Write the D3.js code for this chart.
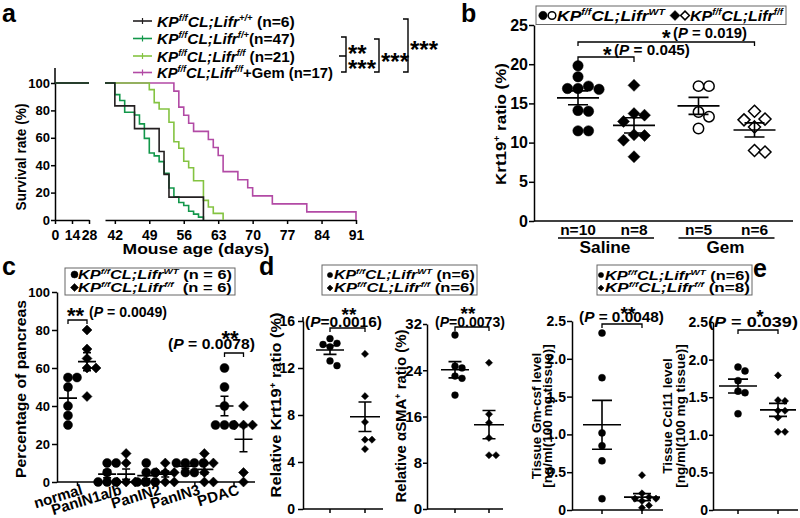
<!DOCTYPE html>
<html lang="en">
<head>
<meta charset="UTF-8" />
<title>Lifr loss figure</title>
<script src="https://cdn.jsdelivr.net/npm/d3@7"></script>
<style>
  body { margin: 0; background: #fff; }
  svg { font-family: "Liberation Sans", Arial, sans-serif; font-weight: bold; }
  text { white-space: pre; fill: #000; }
</style>
</head>
<body>
<svg width="800" height="518"></svg>
<script>
  // ---- a: Kaplan-Meier, day of each drop and survival (%) after it
  const kmN = [6, 47, 21, 17];
  const kmSup = ["+/+", "f/+", "f/f", "f/f"];
  const kmColors = ["#231f20", "#12974a", "#84c341", "#b24aa5"];
  const kmDays = [
    [42, 46, 51, 52, 53, 60],
    [42, 43, 44, 46, 47, 48, 49, 50, 51, 52, 53, 54, 55, 56, 57, 58, 59, 60],
    [49, 50, 51, 53, 54, 55, 56, 57, 58, 60, 61, 62, 64],
    [54, 55, 56, 57, 58, 61, 62, 63, 64, 67, 69, 70, 74, 81, 91]
  ];
  const kmSurv = [
    [83.3, 66.7, 50, 33.3, 16.7, 0],
    [91.5, 87.2, 78.7, 76.6, 70.2, 59.6, 48.9, 46.8, 42.6, 34.0, 23.4, 17.0, 12.8, 10.6, 6.4, 4.3, 2.1, 0],
    [95.2, 85.7, 81.0, 71.4, 57.1, 52.4, 42.9, 38.1, 28.6, 14.3, 9.5, 4.8, 0],
    [94.1, 82.4, 76.5, 70.6, 64.7, 58.8, 52.9, 47.1, 35.3, 29.4, 23.5, 17.6, 11.8, 5.9, 0]
  ];
  const kmTicksLeft = [0, 14, 28];
  const kmTicksRight = [42, 49, 56, 63, 70, 77, 84, 91];
  const kmTicksY = [0, 20, 40, 60, 80, 100];

  // ---- b: Krt19+ ratio
  const bTreat = ["Saline", "Saline", "Gem", "Gem"];
  const bGeno = ["WT", "f/f", "WT", "f/f"];
  const bValues = [
    [19.8, 18.4, 17.2, 16.9, 16.9, 16.8, 14.1, 14.0, 11.5, 11.5],
    [17.3, 13.7, 13.5, 12.7, 11.0, 10.9, 10.3, 8.2],
    [17.2, 17.2, 13.9, 13.3, 11.8],
    [14.0, 13.0, 12.9, 12.0, 9.0, 8.8]
  ];
  const bTicks = [0, 5, 10, 15, 20, 25];

  // ---- c: percentage of pancreas
  const cCats = ["normal", "PanIN1a/b", "PanIN2", "PanIN3", "PDAC"];
  const cWT = [[55, 55, 50, 40, 35, 30], [10, 10, 5, 0, 0, 0], [10, 5, 5, 0, 0, 0], [10, 10, 10, 10, 5, 5], [60, 50, 40, 30, 30, 30]];
  const cFF = [[80, 70, 65, 60, 60, 45], [15, 10, 0, 0, 0, 0], [10, 5, 5, 5, 0, 0], [15, 10, 10, 5, 0, 0], [40, 30, 30, 30, 5, 0]];
  const cTicks = [0, 20, 40, 60, 80, 100];

  // ---- d: relative Krt19+ and aSMA+ ratios
  const dKrtWT = [14.5, 14.1, 14.0, 13.8, 12.6, 12.2];
  const dKrtFF = [13.2, 9.6, 7.4, 5.9, 5.9, 5.1];
  const dSmaWT = [30.1, 24.7, 24.4, 23.0, 22.6, 19.7];
  const dSmaFF = [25.3, 16.4, 14.9, 12.3, 9.3, 9.3];
  const dKrtTicks = [0, 4, 8, 12, 16];
  const dSmaTicks = [0, 8, 16, 24, 32];

  // ---- e: tissue Gm-csf and Ccl11
  const eGmWT = [2.34, 1.75, 1.02, 0.85, 0.65, 0.15];
  const eGmFF = [0.46, 0.22, 0.17, 0.15, 0.15, 0.12, 0.06, 0.03];
  const eCclWT = [1.90, 1.85, 1.72, 1.58, 1.56, 1.28];
  const eCclFF = [1.79, 1.46, 1.45, 1.32, 1.32, 1.23, 1.04, 1.04];
  const eTicks = [0, 0.5, 1, 1.5, 2, 2.5];

  const svg = d3.select("svg");

  // ---------- helpers ----------
  function rich(t, parts, size) {
    let up = false;
    parts.forEach(([s, kind]) => {
      const sp = t.append("tspan").text(s);
      if (kind.includes("i")) sp.attr("font-style", "italic");
      if (kind.includes("s")) {
        sp.attr("font-size", size * 0.6);
        if (!up) sp.attr("dy", -size * 0.38);
        up = true;
      } else if (up) {
        sp.attr("dy", size * 0.38);
        up = false;
      }
    });
  }

  function fit(t, w) {
    const L = t.node().getComputedTextLength();
    t.attr("transform", t.attr("transform") + ` scale(${w / L},1)`);
  }

  function txt(g, x, y, size, o = {}) {
    const t = g.append("text")
      .attr("transform", `translate(${x},${y})` + (o.rot ? ` rotate(${o.rot})` : ""))
      .attr("font-size", size)
      .attr("text-anchor", o.anchor || "start");
    if (o.text != null) t.text(o.text);
    if (o.parts) rich(t, o.parts, size);
    if (o.fit) fit(t, o.fit);
    return t;
  }

  const geno = (sup, tail) => [["KP", "i"], ["f/f", "is"], ["CL;Lifr", "i"], [sup, "is"], [tail, ""]];
  const pText = (num) => [["(", ""], ["P", "i"], [num + ")", ""]];

  function styleAxis(ax, size) {
    ax.attr("font-size", size).attr("font-family", null);
    ax.selectAll("path, line").attr("stroke", "#000").attr("stroke-width", 1.5);
    ax.selectAll("text").attr("fill", "#000");
  }

  function yAxis(g, y, x, ticks, size, len, pad, fmt) {
    const ax = g.append("g").attr("transform", `translate(${x},0)`)
      .call(d3.axisLeft(y).tickValues(ticks).tickSize(len).tickSizeOuter(0)
        .tickPadding(pad).tickFormat(fmt || (d => d)));
    styleAxis(ax, size);
  }

  function baseAxis(g, x0, x1, y, tickXs, len) {
    g.append("line").attr("x1", x0).attr("x2", x1).attr("y1", y).attr("y2", y)
      .attr("stroke", "#000").attr("stroke-width", 1.5);
    g.selectAll(null).data(tickXs).enter().append("line")
      .attr("x1", d => d).attr("x2", d => d).attr("y1", y).attr("y2", y + len)
      .attr("stroke", "#000").attr("stroke-width", 1.5);
  }

  function path(g, d, w) {
    g.append("path").attr("d", d).attr("fill", "none").attr("stroke", "#000").attr("stroke-width", w || 1.3);
  }

  const diamond = r => `M0,${-r}L${r},0L0,${r}L${-r},0Z`;

  function marker(g, x, y, shape, r, open) {
    const m = shape === "circle"
      ? g.append("circle").attr("cx", x).attr("cy", y).attr("r", r)
      : g.append("path").attr("d", diamond(r)).attr("transform", `translate(${x},${y})`);
    m.attr("fill", open ? "#fff" : "#000").attr("stroke", "#000").attr("stroke-width", open ? 1.5 : 0.5);
  }

  // spread points sideways so they don't sit on top of each other
  function dodge(ys, minD, step) {
    const placed = [];
    ys.slice().sort((p, q) => p - q).forEach(py => {
      for (let k = 0; k < 40; k++) {
        const off = Math.ceil(k / 2) * step * (k % 2 ? 1 : -1);
        if (placed.every(p => Math.hypot(p.x - off, p.y - py) >= minD)) {
          placed.push({ x: off, y: py });
          return;
        }
      }
      placed.push({ x: 0, y: py });
    });
    return placed;
  }

  function dots(g, vals, cx, y, o) {
    dodge(vals.map(y), o.minD, o.step).forEach(p => marker(g, cx + p.x, p.y, o.shape, o.r, o.open));
    const m = d3.mean(vals), s = d3.deviation(vals) / Math.sqrt(vals.length);
    path(g, `M${cx - o.mw / 2},${y(m)}H${cx + o.mw / 2}` +
      `M${cx},${y(m + s)}V${y(m - s)}` +
      `M${cx - o.cw / 2},${y(m + s)}H${cx + o.cw / 2}` +
      `M${cx - o.cw / 2},${y(m - s)}H${cx + o.cw / 2}`, 1.6);
  }

  function bracket(g, x0, x1, y, drop) {
    path(g, `M${x0},${y + drop}V${y}H${x1}V${y + drop}`, 1.3);
  }

  // ---------- a ----------
  const pa = svg.append("g");
  const yA = d3.scaleLinear().domain([0, 100]).range([220, 83]);
  const xA1 = d3.scaleLinear().domain([0, 28]).range([55, 89]);
  const xA2 = d3.scaleLinear().domain([40, 91]).range([105, 356]);

  txt(pa, 2, 22, 25, { text: "a" });
  path(pa, "M55,68V84", 1.5);
  yAxis(pa, yA, 55, kmTicksY, 13, 4, 1);
  [[xA1, kmTicksLeft], [xA2, kmTicksRight]].forEach(([x, t]) => {
    const ax = pa.append("g").attr("transform", "translate(0,220)")
      .call(d3.axisBottom(x).tickValues(t).tickSize(4).tickSizeOuter(0).tickPadding(6));
    styleAxis(ax, 14);
  });

  const stepLine = d3.line().x(d => xA2(d[0])).y(d => yA(d[1])).curve(d3.curveStepAfter);
  [3, 2, 1, 0].forEach(i => {
    const pts = [[40, 100]].concat(kmDays[i].map((t, j) => [t, kmSurv[i][j]]));
    pa.append("path").attr("d", stepLine(pts)).attr("fill", "none")
      .attr("stroke", kmColors[i]).attr("stroke-width", 1.6);
    pa.append("line").attr("x1", xA1(0)).attr("x2", xA1(28)).attr("y1", yA(100)).attr("y2", yA(100))
      .attr("stroke", kmColors[i]).attr("stroke-width", 1.6);
  });

  txt(pa, 26, 157, 14, { rot: -90, anchor: "middle", text: "Survival rate (%)", fit: 107 });
  txt(pa, 196, 254, 15, { anchor: "middle", text: "Mouse age (days)", fit: 147 });

  const legY = [21, 38.5, 56, 72.5];
  const legW = [138, 138, 138, 176];
  kmN.forEach((n, i) => {
    const ly = legY[i];
    pa.append("line").attr("x1", 133).attr("x2", 152).attr("y1", ly).attr("y2", ly)
      .attr("stroke", kmColors[i]).attr("stroke-width", 1.6);
    pa.append("line").attr("x1", 142.5).attr("x2", 142.5).attr("y1", ly - 3).attr("y2", ly + 3)
      .attr("stroke", kmColors[i]).attr("stroke-width", 1.2);
    const tail = i === 3 ? `+Gem (n=${n})` : (i === 1 ? `(n=${n})` : ` (n=${n})`);
    txt(pa, 157, ly + 5.5, 15, { parts: geno(kmSup[i], tail), fit: legW[i] });
  });

  path(pa, "M341,37H346V72H341M339,56H346", 1.4);
  path(pa, "M374,39H379V72H374", 1.4);
  path(pa, "M403,19H408V72H403", 1.4);
  txt(pa, 348, 61.5, 24, { text: "**" });
  txt(pa, 348, 77, 24, { text: "***" });
  txt(pa, 381, 70, 24, { text: "***" });
  txt(pa, 410, 58, 24, { text: "***" });

  // ---------- b ----------
  const pb = svg.append("g");
  const yB = d3.scaleLinear().domain([0, 25]).range([221, 25]);
  const xB = d3.scalePoint().domain(["Saline", "Gem"]).range([606, 726.5]);
  const bx = i => xB(bTreat[i]) + (bGeno[i] === "WT" ? -28 : 28);

  txt(pb, 461, 22, 25, { text: "b" });
  yAxis(pb, yB, 534, bTicks, 16, 5, 1);
  baseAxis(pb, 534, 793, 221, [], 0);

  bValues.forEach((vals, i) => {
    const wt = bGeno[i] === "WT";
    dots(pb, vals, bx(i), yB, {
      shape: wt ? "circle" : "diamond", r: wt ? 5.2 : 6, open: bTreat[i] === "Gem",
      minD: 10.5, step: 10.5, mw: 42, cw: 20
    });
    txt(pb, bx(i), 235, 15.5, { anchor: "middle", text: `n=${vals.length}` });
  });
  xB.domain().forEach(tr => {
    const c = xB(tr);
    path(pb, `M${c - 48},238H${c + 48}`, 1.4);
    txt(pb, c - 1, 253, 16, { anchor: "middle", text: tr, fit: tr === "Saline" ? 51 : 38 });
  });

  txt(pb, 506, 124, 15, { rot: -90, anchor: "middle", parts: [["Krt19", ""], ["+", "s"], [" ratio (%)", ""]], fit: 122 });

  pb.append("rect").attr("x", 536).attr("y", 6).attr("width", 250).attr("height", 18.5)
    .attr("fill", "none").attr("stroke", "#666").attr("stroke-width", 1);
  marker(pb, 543, 15.5, "circle", 4.2, false);
  marker(pb, 552, 15.5, "circle", 3.8, true);
  marker(pb, 675, 15.5, "diamond", 5, false);
  marker(pb, 685, 15.5, "diamond", 4.4, true);
  txt(pb, 557, 21, 15, { parts: geno("WT", ""), fit: 108 });
  txt(pb, 690, 21, 15, { parts: geno("f/f", ""), fit: 93 });

  bracket(pb, bx(0), bx(1), 57, 5);
  bracket(pb, bx(0), bx(3), 42, 4);
  txt(pb, 603, 62, 22, { text: "*" });
  txt(pb, 614, 55, 15, { parts: pText(" = 0.045"), fit: 76 });
  txt(pb, 662, 45, 22, { text: "*" });
  txt(pb, 673, 38, 15, { parts: pText(" = 0.019"), fit: 74 });

  // ---------- c ----------
  const pc = svg.append("g");
  const yC = d3.scaleLinear().domain([0, 100]).range([482, 292]);
  const xC = d3.scalePoint().domain(cCats).range([77.5, 234]);

  txt(pc, 2, 275, 25, { text: "c" });
  yAxis(pc, yC, 57, cTicks, 13, 5, 2);
  baseAxis(pc, 57, 255, 482, cCats.map(c => xC(c)), 4);

  cCats.forEach((c, i) => {
    dots(pc, cWT[i], xC(c) - 9.5, yC, { shape: "circle", r: 4.5, minD: 5, step: 4.5, mw: 18, cw: 8 });
    dots(pc, cFF[i], xC(c) + 9.5, yC, { shape: "diamond", r: 5, minD: 5, step: 4.5, mw: 18, cw: 8 });
    txt(pc, xC(c) + 6, 494, 15, { rot: -17, anchor: "end", text: c });
  });

  txt(pc, 25.5, 389, 14, { rot: -90, anchor: "middle", text: "Percentage of pancreas", fit: 178 });

  pc.append("rect").attr("x", 65).attr("y", 268).attr("width", 170).attr("height", 27)
    .attr("fill", "none").attr("stroke", "#666").attr("stroke-width", 1);
  marker(pc, 74.5, 274.5, "circle", 3.5, false);
  marker(pc, 74.5, 287.5, "diamond", 4, false);
  txt(pc, 78, 279, 13, { parts: geno("WT", " (n = 6)"), fit: 154 });
  txt(pc, 78, 292, 13, { parts: geno("f/f", "  (n = 6)"), fit: 154 });

  bracket(pc, xC("normal") - 9.5, xC("normal") + 9.5, 320, 4);
  txt(pc, 67, 323, 22, { text: "**" });
  txt(pc, 89, 317, 14, { parts: pText(" = 0.0049"), fit: 78 });
  bracket(pc, xC("PDAC") - 9.5, xC("PDAC") + 9.5, 353, 4);
  txt(pc, 230, 346, 22, { anchor: "middle", text: "**" });
  txt(pc, 168, 349, 14, { parts: pText(" = 0.0078"), fit: 87 });

  // ---------- d ----------
  const pd = svg.append("g");
  const yDL = d3.scaleLinear().domain([0, 16]).range([509, 321]);
  const yDR = d3.scaleLinear().domain([0, 32]).range([509, 324]);
  const xDL = d3.scalePoint().domain(["WT", "f/f"]).range([330, 365]);
  const xDR = d3.scalePoint().domain(["WT", "f/f"]).range([455, 489]);

  txt(pd, 259, 275, 25, { text: "d" });
  path(pd, "M303,317V322", 1.5);
  yAxis(pd, yDL, 303, dKrtTicks, 14, 5, 3);
  baseAxis(pd, 303, 383, 509, xDL.domain().map(xDL), 4);
  yAxis(pd, yDR, 427, dSmaTicks, 15, 4, 1);
  baseAxis(pd, 427, 503, 509, xDR.domain().map(xDR), 4);

  const smallC = { shape: "circle", r: 3.4, minD: 6.5, step: 7, mw: 28, cw: 13 };
  const smallD = { shape: "diamond", r: 3.6, minD: 6.5, step: 7, mw: 30, cw: 13 };
  dots(pd, dKrtWT, xDL("WT"), yDL, smallC);
  dots(pd, dKrtFF, xDL("f/f"), yDL, smallD);
  dots(pd, dSmaWT, xDR("WT"), yDR, smallC);
  dots(pd, dSmaFF, xDR("f/f"), yDR, smallD);

  txt(pd, 281, 405, 14, { rot: -90, anchor: "middle", parts: [["Relative Krt19", ""], ["+", "s"], [" ratio (%)", ""]], fit: 185 });
  txt(pd, 406, 416, 14, { rot: -90, anchor: "middle", parts: [["Relative αSMA", ""], ["+", "s"], [" ratio (%)", ""]], fit: 173 });

  pd.append("rect").attr("x", 322).attr("y", 265).attr("width", 155).attr("height", 30)
    .attr("fill", "none").attr("stroke", "#666").attr("stroke-width", 1);
  marker(pd, 330, 275, "circle", 2.6, false);
  marker(pd, 330, 288, "diamond", 3, false);
  txt(pd, 334, 279, 13, { parts: geno("WT", " (n=6)"), fit: 141 });
  txt(pd, 334, 292, 13, { parts: geno("f/f", " (n=6)"), fit: 141 });

  bracket(pd, xDL("WT"), xDL("f/f"), 328, 4);
  txt(pd, 349, 321, 19, { anchor: "middle", text: "**" });
  txt(pd, 305, 327, 14, { parts: [["(", ""], ["P", "i"], ["=0.0016)", ""]], fit: 77 });
  bracket(pd, xDR("WT"), xDR("f/f"), 327, 4);
  txt(pd, 468, 319.5, 19, { anchor: "middle", text: "**" });
  txt(pd, 435, 327, 14, { parts: [["(", ""], ["P", "i"], ["=0.0073)", ""]], fit: 70 });

  // ---------- e ----------
  const pe = svg.append("g");
  const yEL = d3.scaleLinear().domain([0, 2.5]).range([510, 321]);
  const yER = d3.scaleLinear().domain([0, 2.5]).range([510, 322]);
  const xEL = d3.scalePoint().domain(["WT", "f/f"]).range([602, 642]);
  const xER = d3.scalePoint().domain(["WT", "f/f"]).range([738, 778]);
  const eFmt = d => d === 0 ? "0" : d.toFixed(1);

  txt(pe, 753, 277, 25, { text: "e" });
  yAxis(pe, yEL, 572, eTicks, 14, 5, 1, eFmt);
  baseAxis(pe, 572, 663, 510, xEL.domain().map(xEL), 4);
  yAxis(pe, yER, 713, eTicks, 14, 4, 1, eFmt);
  baseAxis(pe, 713, 798, 510, xER.domain().map(xER), 4);

  const eC = { shape: "circle", r: 3.5, minD: 6.5, step: 7, mw: 38, cw: 20 };
  const eD = { shape: "diamond", r: 3.6, minD: 6.5, step: 7, mw: 36, cw: 18 };
  dots(pe, eGmWT, xEL("WT"), yEL, eC);
  dots(pe, eGmFF, xEL("f/f"), yEL, eD);
  dots(pe, eCclWT, xER("WT"), yER, eC);
  dots(pe, eCclFF, xER("f/f"), yER, eD);

  txt(pe, 541, 416, 13.5, { rot: -90, anchor: "middle", text: "Tissue Gm-csf level" });
  txt(pe, 552, 416, 13.5, { rot: -90, anchor: "middle", text: "[ng/ml(100 mg tissue)]" });
  txt(pe, 672, 416, 13.5, { rot: -90, anchor: "middle", text: "Tissue Ccl11 level" });
  txt(pe, 685, 416, 13.5, { rot: -90, anchor: "middle", text: "[ng/ml(100 mg tissue)]" });

  pe.append("rect").attr("x", 597).attr("y", 265).attr("width", 155).attr("height", 30)
    .attr("fill", "none").attr("stroke", "#666").attr("stroke-width", 1);
  marker(pe, 601, 275, "circle", 2.6, false);
  marker(pe, 601, 288, "diamond", 3, false);
  txt(pe, 605, 279.5, 13, { parts: geno("WT", " (n=6)"), fit: 145 });
  txt(pe, 605, 292, 13, { parts: geno("f/f", " (n=8)"), fit: 145 });

  bracket(pe, xEL("WT"), xEL("f/f"), 324, 4);
  txt(pe, 628, 319.5, 19, { anchor: "middle", text: "**" });
  txt(pe, 579, 322, 14, { parts: pText(" = 0.0048"), fit: 85 });
  bracket(pe, xER("WT"), xER("f/f"), 330, 4);
  txt(pe, 760, 323, 19, { anchor: "middle", text: "*" });
  txt(pe, 708, 327, 14, { parts: pText(" = 0.039"), fit: 90 });
</script>
</body>
</html>
